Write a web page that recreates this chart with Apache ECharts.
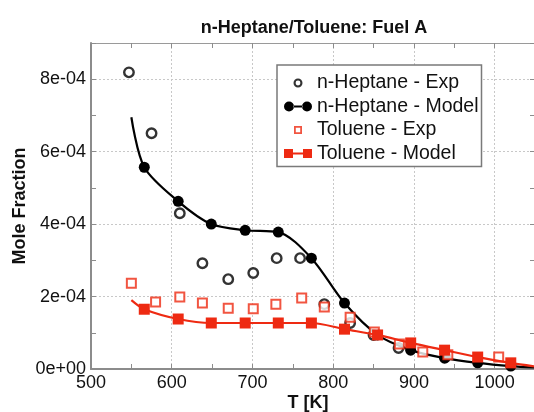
<!DOCTYPE html>
<html>
<head>
<meta charset="utf-8">
<script src="https://cdn.jsdelivr.net/npm/echarts@6/dist/echarts.min.js"></script>
<style>html,body{margin:0;padding:0;background:#fff}#c{width:534px;height:412px}</style>
</head>
<body>
<div id="c"></div>
<script>
// ---- data (T in K, mole fraction) ----
var heptaneExpT   = [547, 575, 610, 638, 670, 701, 730, 759, 789, 821, 850, 881, 939];
var heptaneExpY   = [8.19e-4, 6.51e-4, 4.30e-4, 2.92e-4, 2.48e-4, 2.65e-4, 3.06e-4, 3.06e-4, 1.79e-4, 1.27e-4, 0.94e-4, 0.58e-4, 0.33e-4];
var heptaneModT   = [550, 566, 608, 649, 691, 732, 773, 814, 855, 896, 938, 979, 1020, 1050];
var heptaneModY   = [6.95e-4, 5.57e-4, 4.63e-4, 4.00e-4, 3.83e-4, 3.78e-4, 3.06e-4, 1.82e-4, 0.94e-4, 0.52e-4, 0.30e-4, 0.17e-4, 0.08e-4, 0.04e-4];
var tolueneExpT   = [550, 580, 610, 638, 670, 701, 729, 761, 789, 821, 851, 882, 911, 942, 1005];
var tolueneExpY   = [2.37e-4, 1.85e-4, 1.99e-4, 1.82e-4, 1.68e-4, 1.66e-4, 1.79e-4, 1.96e-4, 1.71e-4, 1.43e-4, 1.02e-4, 0.69e-4, 0.47e-4, 0.39e-4, 0.33e-4];
var tolueneModT   = [550, 566, 608, 649, 691, 732, 773, 814, 855, 896, 938, 979, 1020, 1050];
var tolueneModY   = [1.90e-4, 1.65e-4, 1.38e-4, 1.27e-4, 1.27e-4, 1.27e-4, 1.27e-4, 1.10e-4, 0.94e-4, 0.72e-4, 0.52e-4, 0.33e-4, 0.17e-4, 0.07e-4];
var seriesNames   = ['n-Heptane - Exp', 'n-Heptane - Model', 'Toluene - Exp', 'Toluene - Model'];
var xTicks = {min: 500, max: 1050, interval: 100};
var yTicks = {min: 0, max: 9e-4, interval: 2e-4};

var RED = '#ee2a12';
var FONT = '"Liberation Sans", Arial, sans-serif';

function pairs(xs, ys, firstLastHidden) {
  return xs.map(function (x, i) {
    var item = {value: [x, ys[i]]};
    if (firstLastHidden && (i === 0 || i === xs.length - 1)) item.symbol = 'none';
    return item;
  });
}
function fmtExp(v) {
  var s = Number(v).toExponential(0);
  var p = s.split('e');
  var sign = p[1].charAt(0);
  var d = p[1].slice(1);
  if (d.length < 2) d = '0' + d;
  return p[0] + 'e' + sign + d;
}

// legend icons (28 x 10 box; zero-area anchors keep the box width)
var ANCH = 'M0,5L0.01,5Z M28,5L27.99,5Z ';
var ICON_OPEN_CIRCLE = 'path://' + ANCH + 'M14,0.5a4.5,4.5 0 1,1 0,9a4.5,4.5 0 1,1 0,-9Z M14,2.6a2.4,2.4 0 1,0 0,4.8a2.4,2.4 0 1,0 0,-4.8Z';
var ICON_DOT_LINE = 'path://' + ANCH + 'M0,5a5,5 0 1,0 10,0a5,5 0 1,0 -10,0Z M18,5a5,5 0 1,0 10,0a5,5 0 1,0 -10,0Z M9.5,3.9L18.5,3.9L18.5,6.1L9.5,6.1Z';
var ICON_OPEN_SQUARE = 'path://' + ANCH + 'M10,1h8v8h-8Z M11.8,2.8v4.4h4.4v-4.4Z';
var ICON_SQ_LINE = 'path://' + ANCH + 'M0,0.5h9v9h-9Z M19,0.5h9v9h-9Z M9,3.9h10v2.2h-10Z';

var chart = echarts.init(document.getElementById('c'), null, {renderer: 'canvas'});
var axisGray = '#8c8c8c';
var tickCommon = {show: true, inside: true, length: 5, lineStyle: {color: axisGray, width: 1}};
var minorCommon = {show: true, splitNumber: 2, length: 5, lineStyle: {color: axisGray, width: 1}};

chart.setOption({
  animation: false,
  backgroundColor: '#fff',
  title: {
    text: 'n-Heptane/Toluene: Fuel A',
    left: 309, top: 14, textAlign: 'center',
    textStyle: {fontFamily: FONT, fontSize: 18, fontWeight: 'bold', color: '#111'}
  },
  grid: {left: 91, right: -1, top: 43, bottom: 43, containLabel: false, outerBoundsMode: 'none'},
  legend: {
    left: 277, top: 65, orient: 'vertical',
    padding: [8, 3, 3, 7],
    itemGap: 3.5, itemWidth: 28, itemHeight: 10,
    backgroundColor: '#fff', borderColor: '#7a7a7a', borderWidth: 1.5, borderRadius: 0,
    textStyle: {fontFamily: FONT, fontSize: 19.5, color: '#111'},
    data: [
      {name: seriesNames[0], icon: ICON_OPEN_CIRCLE, itemStyle: {color: '#000', borderWidth: 0}},
      {name: seriesNames[1], icon: ICON_DOT_LINE, itemStyle: {color: '#000', borderWidth: 0}},
      {name: seriesNames[2], icon: ICON_OPEN_SQUARE, itemStyle: {color: RED, borderWidth: 0}},
      {name: seriesNames[3], icon: ICON_SQ_LINE, itemStyle: {color: RED, borderWidth: 0}}
    ]
  },
  xAxis: [{
    type: 'value', position: 'bottom',
    min: xTicks.min, max: xTicks.max, interval: xTicks.interval,
    name: 'T [K]', nameLocation: 'middle', nameGap: 25, nameMoveOverlap: false,
    nameTextStyle: {fontFamily: FONT, fontSize: 18, fontWeight: 'bold', color: '#111', padding: [0, 10, 0, 0]},
    axisLine: {show: true, onZero: false, lineStyle: {color: axisGray, width: 2}},
    axisTick: tickCommon,
    minorTick: minorCommon,
    axisLabel: {fontFamily: FONT, fontSize: 18, color: '#111', margin: 5, showMaxLabel: false,
      formatter: function (v) { return String(v); }},
    splitLine: {show: true, lineStyle: {color: '#c8c8c8', type: [2, 2], width: 1}}
  }, {
    type: 'value', position: 'top',
    min: xTicks.min, max: xTicks.max, interval: xTicks.interval,
    axisLine: {show: true, onZero: false, lineStyle: {color: '#9a9a9a', width: 1}},
    axisTick: tickCommon,
    minorTick: minorCommon,
    axisLabel: {show: false}, splitLine: {show: false}
  }],
  yAxis: [{
    type: 'value', position: 'left',
    min: yTicks.min, max: yTicks.max, interval: yTicks.interval,
    name: 'Mole Fraction', nameLocation: 'middle', nameGap: 62, nameRotate: 90, nameMoveOverlap: false,
    nameTextStyle: {fontFamily: FONT, fontSize: 18, fontWeight: 'bold', color: '#111'},
    axisLine: {show: true, onZero: false, lineStyle: {color: axisGray, width: 2}},
    axisTick: tickCommon,
    minorTick: minorCommon,
    axisLabel: {fontFamily: FONT, fontSize: 18, color: '#111', margin: 5, showMaxLabel: false, formatter: fmtExp},
    splitLine: {show: true, lineStyle: {color: '#c8c8c8', type: [2, 2], width: 1}}
  }, {
    type: 'value', position: 'right',
    min: yTicks.min, max: yTicks.max, interval: yTicks.interval,
    axisLine: {show: false},
    axisTick: tickCommon,
    minorTick: minorCommon,
    axisLabel: {show: false}, splitLine: {show: false}
  }],
  series: [{
    name: seriesNames[0], type: 'scatter', xAxisIndex: 0, yAxisIndex: 0,
    symbol: 'circle', symbolSize: 9.5, z: 3,
    itemStyle: {color: '#fff', borderColor: '#000', borderWidth: 2.4},
    data: pairs(heptaneExpT, heptaneExpY, false)
  }, {
    name: seriesNames[1], type: 'line', xAxisIndex: 0, yAxisIndex: 0,
    symbol: 'circle', symbolSize: 11, smooth: 0.3, showAllSymbol: true, z: 4,
    lineStyle: {color: '#000', width: 2.2}, itemStyle: {color: '#000'},
    data: pairs(heptaneModT, heptaneModY, true)
  }, {
    name: seriesNames[2], type: 'scatter', xAxisIndex: 0, yAxisIndex: 0,
    symbol: 'rect', symbolSize: 9, z: 5,
    itemStyle: {color: '#fff', borderColor: RED, borderWidth: 2},
    data: pairs(tolueneExpT, tolueneExpY, false)
  }, {
    name: seriesNames[3], type: 'line', xAxisIndex: 0, yAxisIndex: 0,
    symbol: 'rect', symbolSize: 11, smooth: 0.3, showAllSymbol: true, z: 6,
    lineStyle: {color: RED, width: 2.2}, itemStyle: {color: RED},
    data: pairs(tolueneModT, tolueneModY, true)
  }]
});
</script>
</body>
</html>
